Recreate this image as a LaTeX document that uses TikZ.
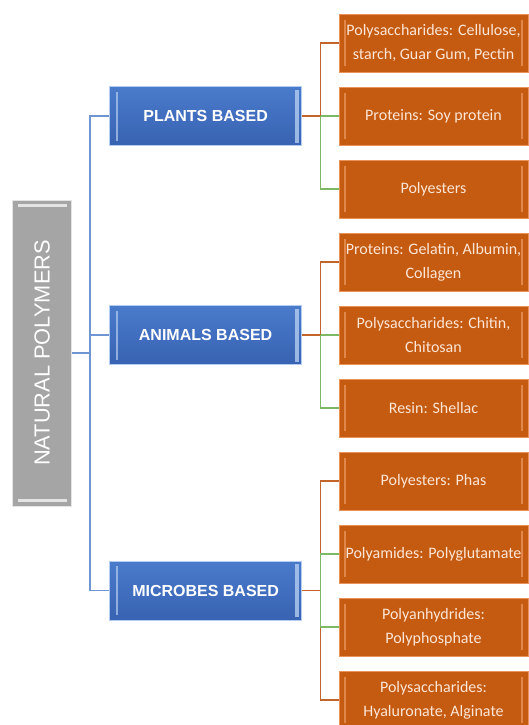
\documentclass[tikz,border=0pt]{standalone}
\usepackage{fontspec}
\setmainfont{Carlito}
\newfontfamily\arialfont{Liberation Sans}
\usetikzlibrary{positioning,calc}
\definecolor{ofill}{HTML}{C55A11}
\definecolor{oedge}{HTML}{E9935A}
\definecolor{otext}{HTML}{FCE6D6}
\definecolor{btop}{HTML}{4A7BCB}
\definecolor{bbot}{HTML}{3862B2}
\definecolor{bedge}{HTML}{B4CDF0}
\definecolor{gfill}{HTML}{A5A5A5}
\definecolor{gedge}{HTML}{E4E4E4}
\definecolor{lblue}{HTML}{6F96D2}
\definecolor{lorange}{HTML}{C2652A}
\definecolor{lgreen}{HTML}{7DB864}
\tikzstyle{obox}=[rectangle,draw=oedge,fill=ofill,text=otext,minimum width=189pt,
minimum height=58pt,inner sep=0pt,align=center,font=\fontsize{16}{24}\selectfont,
path picture={\fill[oedge,opacity=.8] ([xshift=5pt,yshift=-6pt]path picture bounding box.north west) rectangle ([xshift=7pt,yshift=6pt]path picture bounding box.south west);
\fill[oedge,opacity=.8] ([xshift=-7pt,yshift=-6pt]path picture bounding box.north east) rectangle ([xshift=-5pt,yshift=6pt]path picture bounding box.south east);}]
\tikzstyle{bbox}=[rectangle,draw=bedge,top color=btop,bottom color=bbot,text=white,
minimum width=192pt,minimum height=59pt,inner sep=0pt,font=\arialfont\bfseries\fontsize{16}{19}\selectfont,
path picture={\fill[bedge,opacity=.7] ([xshift=6pt,yshift=-5pt]path picture bounding box.north west) rectangle ([xshift=8pt,yshift=5pt]path picture bounding box.south west);
\fill[bedge,opacity=.8] ([xshift=-7pt,yshift=-3pt]path picture bounding box.north east) rectangle ([xshift=-3pt,yshift=3pt]path picture bounding box.south east);}]
\tikzstyle{gbox}=[rectangle,draw=gedge,fill=gfill,text=white,minimum width=59pt,
minimum height=306pt,inner sep=0pt,font=\arialfont\fontsize{21.8}{24}\selectfont,
path picture={\fill[gedge] ([xshift=5pt,yshift=-4pt]path picture bounding box.north west) rectangle ([xshift=-5pt,yshift=-7pt]path picture bounding box.north east);
\fill[gedge] ([xshift=5pt,yshift=4pt]path picture bounding box.south west) rectangle ([xshift=-5pt,yshift=7pt]path picture bounding box.south east);}]
\tikzstyle{bline}=[draw=lblue,line width=1.3pt]
\tikzstyle{oline}=[draw=lorange,line width=1.3pt]
\tikzstyle{gline}=[draw=lgreen,line width=1.3pt]

\begin{document}
\begin{tikzpicture}[x=1pt,y=-1pt,node distance=73pt]
            \useasboundingbox[fill=white] (0,0) rectangle (529,725);

            % PLANTS PART

            \node[obox]                 (pp1) at (433.5,43) {Polysaccharides: Cellulose,\\starch, Guar Gum, Pectin};
            \node[obox, below of=pp1]   (pp2) {Proteins: Soy protein};
            \node[obox, below of=pp2]   (pp3) {Polyesters};
            \node[bbox, left=37pt of pp2] (plants) {PLANTS BASED};

            % ANIMALS PART

            \node[obox, below of=pp3]   (an1) {Proteins: Gelatin, Albumin,\\Collagen};
            \node[obox, below of=an1]   (an2) {Polysaccharides: Chitin,\\Chitosan};
            \node[obox, below of=an2]   (an3) {Resin: Shellac};
            \node[bbox, left=37pt of an2] (animals) {ANIMALS BASED};

            % MICROBES PART

            \node[obox, below of=an3]   (mb1) {Polyesters: Phas};
            \node[obox, below of=mb1]   (mb2) {Polyamides: Polyglutamate};
            \node[obox, below of=mb2]   (mb3) {Polyanhydrides:\\Polyphosphate};
            \node[obox, below of=mb3]   (mb4) {Polysaccharides:\\Hyaluronate, Alginate};
            \coordinate (mbmid) at ($(mb2.west)!0.5!(mb3.west)$);
            \node[bbox, left=37pt of mbmid] (microbes) {MICROBES BASED};

            % ROOT

            \node[gbox] (np) at (42,353) {\rotatebox{90}{NATURAL POLYMERS}};

            \coordinate (trunk) at (90,0);
            \coordinate (bus) at (320.5,0);

            % Connections of Root

            \path[bline] (np.east) edge (np.east -| trunk);
            \draw[bline] (plants.west) -| (trunk |- microbes.west) -- (microbes.west);
            \path[bline] (animals.west) edge (animals.west -| trunk);

            % Connections of Groups

            \draw[oline] (plants.east) -- (plants.east -| bus) |- (pp1.west);
            \path[gline] (plants.east -| bus) edge (pp2.west);
            \draw[gline] (plants.east -| bus) |- (pp3.west);

            \draw[oline] (animals.east) -- (animals.east -| bus) |- (an1.west);
            \path[gline] (animals.east -| bus) edge (an2.west);
            \draw[gline] (animals.east -| bus) |- (an3.west);

            \draw[oline] (microbes.east) -- (microbes.east -| bus) |- (mb1.west);
            \draw[oline] (microbes.east -| bus) |- (mb4.west);
            \draw[gline] (mb2.west) -| (mb3.west -| bus) -- (mb3.west);

\end{tikzpicture}
\end{document}
